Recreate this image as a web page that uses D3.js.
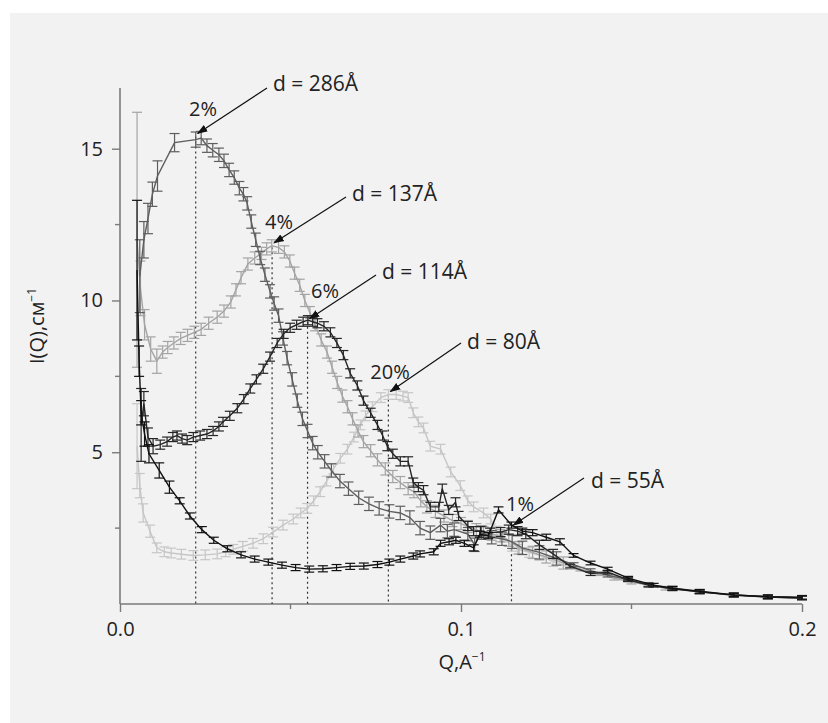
<!DOCTYPE html>
<html>
<head>
<meta charset="utf-8">
<script src="https://cdn.jsdelivr.net/npm/d3@7"></script>
<style>
  body { margin: 0; background: #fff; }
  svg { font-family: "Open Sans", "Noto Sans", sans-serif; }
</style>
</head>
<body>
<div id="chart"></div>
<script>
// [Q, I, err?]
const c20 = [[0.0050,5.2,1.4],[0.0058,3.9,0.4],[0.0068,3.0,0.3],[0.0088,2.4,0.2],[0.0108,1.85],[0.0130,1.72],[0.0150,1.68],[0.0180,1.64],[0.0215,1.6],[0.0250,1.62],[0.0285,1.65],[0.0310,1.72],[0.0332,1.8],[0.0360,1.9],[0.0390,2.0],[0.0420,2.15],[0.0449,2.37],[0.0478,2.6],[0.0508,2.8],[0.0530,3.0],[0.0549,3.15],[0.0568,3.4],[0.0587,3.7],[0.0606,4.05],[0.0626,4.45],[0.0646,4.8],[0.0667,5.1],[0.0686,5.5],[0.0705,5.9],[0.0720,6.2],[0.0740,6.5],[0.0765,6.8],[0.0787,6.9],[0.0810,6.9],[0.0830,6.85],[0.0845,6.8],[0.0860,6.3],[0.0875,6.0],[0.0890,5.8],[0.0910,5.2],[0.0940,5.1],[0.0970,4.35],[0.0998,3.9],[0.1020,3.4],[0.1037,3.2],[0.1066,3.0],[0.1087,2.8],[0.1105,2.4],[0.1125,2.2],[0.1150,1.9],[0.1166,1.8],[0.1200,1.7],[0.1230,1.6],[0.1270,1.4],[0.1320,1.2],[0.1380,1.0],[0.1448,0.93],[0.1490,0.82],[0.1550,0.65],[0.1620,0.52],[0.1700,0.4],[0.1800,0.3],[0.1900,0.24],[0.2000,0.2]];

const c4 = [[0.0050,12.0,4.2],[0.0060,10.4,0.9],[0.0072,9.2,0.5],[0.0090,8.4,0.4],[0.0108,8.0,0.4],[0.0125,8.3],[0.0140,8.45],[0.0158,8.6],[0.0178,8.75],[0.0198,8.85],[0.0218,8.95],[0.0238,9.05],[0.0260,9.25],[0.0285,9.45],[0.0305,9.65],[0.0325,9.95],[0.0340,10.35],[0.0355,10.75],[0.0375,11.2],[0.0395,11.4],[0.0415,11.55],[0.0430,11.7],[0.0445,11.8],[0.0465,11.75],[0.0482,11.6],[0.0498,11.3],[0.0512,10.9],[0.0527,10.5],[0.0542,10.0],[0.0557,9.6],[0.0572,9.2],[0.0590,8.7],[0.0607,8.3],[0.0622,7.8],[0.0637,7.3],[0.0652,6.85],[0.0667,6.5],[0.0682,6.1],[0.0698,5.7],[0.0714,5.35],[0.0735,5.05],[0.0755,4.75],[0.0778,4.45],[0.0800,4.2],[0.0822,4.0],[0.0845,3.8],[0.0862,3.7],[0.0882,3.4],[0.0900,3.2],[0.0925,3.05],[0.0950,2.9],[0.0975,2.75],[0.1000,2.65],[0.1020,2.55],[0.1045,2.45],[0.1066,2.35],[0.1090,2.3],[0.1115,2.25],[0.1140,2.1],[0.1170,1.85],[0.1210,1.7],[0.1250,1.55],[0.1300,1.35],[0.1350,1.15],[0.1400,1.0],[0.1450,0.85],[0.1500,0.72],[0.1550,0.62],[0.1600,0.52],[0.1700,0.4],[0.1800,0.3],[0.1900,0.24],[0.2000,0.2]];

const c2 = [[0.0058,10.8,1.2],[0.0070,12.0,0.6],[0.0082,12.7,0.5],[0.0095,13.5,0.4],[0.0110,14.1,0.5],[0.0160,15.2,0.3],[0.0222,15.3,0.25],[0.0238,15.35],[0.0255,15.1],[0.0272,14.95],[0.0290,14.8],[0.0305,14.6],[0.0320,14.3],[0.0335,14.05],[0.0350,13.7],[0.0362,13.5],[0.0373,13.2],[0.0385,12.6],[0.0398,12.0],[0.0411,11.4],[0.0425,10.85],[0.0440,10.3],[0.0452,9.9],[0.0465,9.5],[0.0478,8.75],[0.0490,8.1],[0.0505,7.4],[0.0520,6.7],[0.0535,6.1],[0.0550,5.7],[0.0565,5.3],[0.0580,5.0],[0.0600,4.7],[0.0620,4.4],[0.0645,4.05],[0.0670,3.8],[0.0700,3.5],[0.0730,3.3],[0.0760,3.15],[0.0790,3.05],[0.0822,3.0],[0.0850,2.85],[0.0880,2.5],[0.0910,2.35],[0.0940,2.6],[0.0960,2.4],[0.0980,2.45],[0.1020,2.3],[0.1040,1.95],[0.1060,2.35],[0.1090,2.2],[0.1120,2.15],[0.1150,2.05],[0.1180,1.85],[0.1230,1.7],[0.1280,1.5],[0.1330,1.3],[0.1380,1.1],[0.1430,0.95],[0.1490,0.8],[0.1550,0.64],[0.1620,0.52],[0.1700,0.4],[0.1800,0.3],[0.1900,0.23],[0.2000,0.2]];

const c6 = [[0.0062,5.9,1.2],[0.0070,6.6,0.4],[0.0082,5.5,0.3],[0.0097,5.2,0.25],[0.0118,5.25],[0.0138,5.35],[0.0155,5.5],[0.0167,5.55],[0.0182,5.45],[0.0197,5.4],[0.0215,5.5],[0.0235,5.55],[0.0255,5.6],[0.0273,5.7],[0.0290,5.85],[0.0302,6.0],[0.0322,6.2],[0.0344,6.45],[0.0363,6.75],[0.0382,7.1],[0.0400,7.4],[0.0420,7.75],[0.0440,8.15],[0.0461,8.6],[0.0480,8.9],[0.0499,9.1],[0.0518,9.2],[0.0537,9.3],[0.0551,9.35],[0.0565,9.3],[0.0579,9.25],[0.0598,9.15],[0.0617,8.95],[0.0636,8.6],[0.0655,8.2],[0.0675,7.6],[0.0696,7.2],[0.0714,6.7],[0.0735,6.3],[0.0755,5.9],[0.0770,5.55],[0.0784,5.2],[0.0800,4.95],[0.0822,4.7],[0.0845,4.7],[0.0860,4.0],[0.0875,3.85],[0.0890,3.75],[0.0910,3.2],[0.0935,3.2],[0.0945,3.8],[0.0964,3.1],[0.0984,3.35],[0.0993,2.9],[0.1020,2.57],[0.1037,2.4],[0.1057,2.4],[0.1085,2.35],[0.1116,2.37],[0.1140,2.45],[0.1166,2.4],[0.1190,2.3],[0.1230,1.95],[0.1270,1.65],[0.1320,1.25],[0.1380,1.0],[0.1430,1.05],[0.1490,0.8],[0.1550,0.62],[0.1620,0.5],[0.1700,0.4],[0.1800,0.29],[0.1900,0.23],[0.2000,0.2]];

const c1 = [[0.0050,11.0,2.3],[0.0056,8.0,0.5],[0.0062,6.3,0.4],[0.0072,5.6,0.4],[0.0085,4.95,0.3],[0.0115,4.4,0.25],[0.0145,3.85,0.2],[0.0175,3.4],[0.0205,2.9],[0.0240,2.45],[0.0275,2.1],[0.0315,1.82],[0.0355,1.62],[0.0395,1.48],[0.0435,1.38],[0.0475,1.28],[0.0515,1.2],[0.0555,1.15],[0.0595,1.16],[0.0635,1.2],[0.0675,1.24],[0.0715,1.25],[0.0755,1.3],[0.0790,1.38],[0.0822,1.48],[0.0860,1.58],[0.0880,1.65],[0.0920,1.72],[0.0940,2.0],[0.0965,2.05],[0.0985,2.1],[0.1010,2.0],[0.1037,1.85],[0.1055,2.3],[0.1080,2.25],[0.1110,3.1,0.1],[0.1148,2.6],[0.1180,2.4],[0.1210,2.35],[0.1250,2.2],[0.1290,2.05],[0.1330,1.6],[0.1380,1.35],[0.1430,1.15],[0.1490,0.85],[0.1565,0.62],[0.1620,0.52],[0.1700,0.42],[0.1800,0.3],[0.1900,0.24],[0.2000,0.22]];

const seriesNames = ["20%", "4%", "2%", "6%", "1%"];
const seriesData = [c20, c4, c2, c6, c1];
const seriesColor = ["#c6c6c6", "#a4a4a4", "#5e5e5e", "#262626", "#111111"];
const seriesErr = [0.16, 0.2, 0.22, 0.15, 0.1];

// peaks
const peakNames = ["2%", "4%", "6%", "20%", "1%"];
const peakQ = [0.0222, 0.0446, 0.0550, 0.0787, 0.1148];
const peakI = [15.4, 11.75, 9.3, 6.9, 1.8];
const arrowTipI = [15.5, 11.9, 9.4, 7.0, 2.6];
const dLabels = ["d = 286Å", "d = 137Å", "d = 114Å", "d = 80Å", "d = 55Å"];
const xTicks = [0, 0.1, 0.2];
const xMinor = [0.05, 0.15];
const yTicks = [5, 10, 15];
const yMinor = [2.5, 7.5, 12.5];

const W = 828, H = 723;
const svg = d3.select("#chart").append("svg").attr("width", W).attr("height", H);

svg.append("rect").attr("x", 10).attr("y", 13).attr("width", W - 10).attr("height", H - 13).attr("fill", "#f2f2f2");

const x = d3.scaleLinear().domain([0, 0.2]).range([120, 802]);
const y = d3.scaleLinear().domain([0, 17]).range([604, 88]);

// axes
const axisColor = "#7a7a7a";
const gx = svg.append("g").attr("transform", "translate(0,604)")
  .call(d3.axisBottom(x).tickValues(xTicks).tickSize(8).tickFormat(d3.format(".1f")));
const gy = svg.append("g").attr("transform", "translate(120,0)")
  .call(d3.axisLeft(y).tickValues(yTicks).tickSize(8).tickFormat(d3.format("d")));
[gx, gy].forEach(g => {
  g.select(".domain").attr("stroke", axisColor).attr("stroke-width", 1.6);
  g.selectAll(".tick line").attr("stroke", axisColor).attr("stroke-width", 1.4);
  g.selectAll(".tick text").attr("fill", "#222").style("font-size", "20px").style("font-family", "'Open Sans', sans-serif");
});
gx.select(".domain").attr("d", "M120,0H802");
gy.select(".domain").attr("d", "M0,604V88");
gx.selectAll(".tick text").attr("dy", "1.05em");
gy.selectAll(".tick text").attr("dx", "-6");

svg.append("g").selectAll("line").data(xMinor).join("line")
  .attr("x1", d => x(d)).attr("x2", d => x(d)).attr("y1", 604).attr("y2", 609)
  .attr("stroke", axisColor).attr("stroke-width", 1.4);
svg.append("g").selectAll("line").data(yMinor).join("line")
  .attr("y1", d => y(d)).attr("y2", d => y(d)).attr("x1", 115).attr("x2", 120)
  .attr("stroke", axisColor).attr("stroke-width", 1.4);

// axis titles
const yl = svg.append("text").attr("transform", "translate(44,326) rotate(-90)")
  .attr("text-anchor", "middle").style("font-size", "20px").attr("fill", "#222");
yl.append("tspan").text("I(Q),см");
yl.append("tspan").attr("dy", -8).style("font-size", "12px").text("−1");

const xl = svg.append("text").attr("x", 462).attr("y", 669)
  .attr("text-anchor", "middle").style("font-size", "20px").attr("fill", "#222");
xl.append("tspan").text("Q,A");
xl.append("tspan").attr("dy", -8).style("font-size", "12px").text("−1");

// dotted peak lines
svg.append("g").selectAll("line").data(peakQ).join("line")
  .attr("x1", d => x(d)).attr("x2", d => x(d))
  .attr("y1", (d, i) => y(peakI[i])).attr("y2", y(0))
  .attr("stroke", "#333").attr("stroke-width", 1.2).attr("stroke-dasharray", "2,3");

// series
const line = d3.line().x(d => x(d[0])).y(d => y(d[1]));
seriesData.forEach((data, si) => {
  const g = svg.append("g").attr("stroke", seriesColor[si]).attr("fill", "none");
  g.append("path").attr("d", line(data)).attr("stroke-width", 1.4);
  const eb = g.selectAll("g.eb").data(data).join("g").attr("class", "eb");
  const err = d => d[2] !== undefined ? d[2] : (d[0] > 0.13 ? 0.06 : seriesErr[si]);
  eb.append("line").attr("x1", d => x(d[0])).attr("x2", d => x(d[0]))
    .attr("y1", d => y(d[1] + err(d))).attr("y2", d => y(d[1] - err(d))).attr("stroke-width", 1.2);
  eb.append("line").attr("x1", d => x(d[0]) - 5).attr("x2", d => x(d[0]) + 5)
    .attr("y1", d => y(d[1] + err(d))).attr("y2", d => y(d[1] + err(d))).attr("stroke-width", 1.2);
  eb.append("line").attr("x1", d => x(d[0]) - 5).attr("x2", d => x(d[0]) + 5)
    .attr("y1", d => y(d[1] - err(d))).attr("y2", d => y(d[1] - err(d))).attr("stroke-width", 1.2);
});

// annotations
svg.append("defs").append("marker").attr("id", "arr")
  .attr("viewBox", "0 0 10 10").attr("refX", 9).attr("refY", 5)
  .attr("markerWidth", 9).attr("markerHeight", 9).attr("orient", "auto")
  .append("path").attr("d", "M0,1.5L10,5L0,8.5Z").attr("fill", "#111");

// label positions in pixels (text layout)
const pctPos = [[203, 116], [279, 229], [325, 298], [390, 379], [520, 511]];
const dPos = [[273, 91], [352, 201], [382, 279], [467, 349], [591, 488]];
const arrowStart = [[267, 88], [346, 197], [376, 275], [461, 343], [584, 478]];

peakNames.forEach((n, i) => {
  svg.append("text").attr("x", pctPos[i][0]).attr("y", pctPos[i][1]).attr("text-anchor", "middle")
    .style("font-size", "20px").attr("fill", "#222").text(n);
  svg.append("text").attr("x", dPos[i][0]).attr("y", dPos[i][1])
    .style("font-size", "21px").attr("fill", "#222").text(dLabels[i]);
  svg.append("line").attr("x1", arrowStart[i][0]).attr("y1", arrowStart[i][1])
    .attr("x2", x(peakQ[i]) + 2).attr("y2", y(arrowTipI[i]))
    .attr("stroke", "#111").attr("stroke-width", 1.2).attr("marker-end", "url(#arr)");
});
</script>
</body>
</html>
